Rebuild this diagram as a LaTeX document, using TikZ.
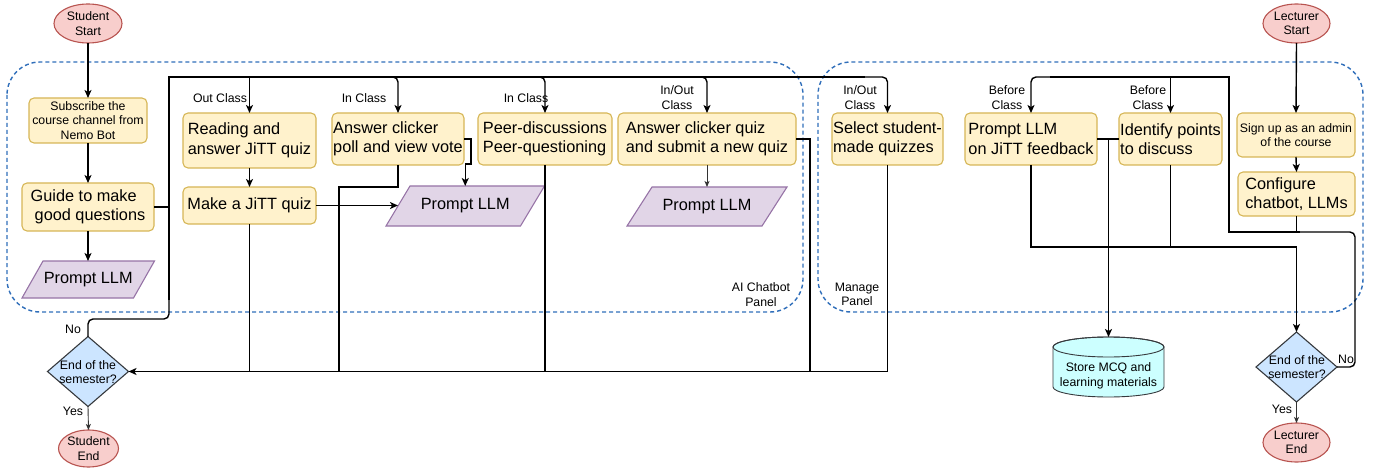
\documentclass[tikz,border=0pt]{standalone}
\usepackage{fontspec}
\setmainfont{Liberation Sans}
\usetikzlibrary{shapes.geometric,arrows.meta}
\pgfdeclarelayer{bg}
\pgfsetlayers{bg,main}
\definecolor{efill}{HTML}{F8CECC}
\definecolor{edraw}{HTML}{B85450}
\definecolor{bfill}{HTML}{FFF2CC}
\definecolor{bdraw}{HTML}{D6B656}
\definecolor{pfillc}{HTML}{E1D5E7}
\definecolor{pdraw}{HTML}{9673A6}
\definecolor{dfill}{HTML}{CCE5FF}
\definecolor{ddraw}{HTML}{36393D}
\definecolor{cfill}{HTML}{CCFFFF}
\definecolor{pblue}{HTML}{2F6EBA}
\tikzset{
 every node/.style={inner sep=0pt, outer sep=0pt},
 bigf/.style={font=\fontsize{16.3}{19.5}\selectfont},
 smallf/.style={font=\fontsize{12.3}{14.5}\selectfont},
 term/.style={ellipse, draw=edraw, fill=efill, line width=1.1pt, smallf, align=center},
 box/.style={rectangle, rounded corners=5pt, draw=bdraw, fill=bfill, line width=1.1pt},
 bigbox/.style={box, bigf, align=left},
 smallbox/.style={box, smallf, align=center},
 paranode/.style={bigf, align=center},
 pshape/.style={fill=pfillc, draw=pdraw, line width=1.1pt},
 dia/.style={diamond, draw=ddraw, fill=dfill, line width=1.1pt, minimum width=81pt, minimum height=70pt},
 cyl/.style={fill=cfill, draw=ddraw, line width=0.9pt},
 conn/.style={draw=black, line width=1.4pt},
 arr/.style={conn, -{Stealth[length=8pt,width=7pt,inset=2pt]}},
 thinarr/.style={draw=black!80, line width=0.9pt, -{Stealth[length=6pt,width=5pt,inset=1.5pt]}},
 panel/.style={draw=pblue, line width=1.4pt, dash pattern=on 4pt off 3pt, rounded corners=33pt},
 lbl/.style={smallf, align=center},
}
\begin{document}
\begin{tikzpicture}[x=1pt,y=-1pt]
\useasboundingbox (0,0) rectangle (1377,468);

% ---------- nodes ----------
\node[term, minimum width=68pt, minimum height=39pt] (sstart) at (88,23.5) {Student\\Start};
\node[smallbox, minimum width=118pt, minimum height=45pt] (subscribe) at (88,120.5) {Subscribe the\\course channel from\\Nemo Bot};
\node[bigbox, minimum width=132pt, minimum height=48pt] (guide) at (88,207) {Guide to make\\\hspace*{4pt}good questions};
\node[paranode, minimum width=111.5pt, minimum height=37pt] (pllm1) at (88.25,279.5) {Prompt LLM};
\node[dia] (sdec) at (88,371.5) {};
\node[lbl] (sdect) at (88,372) {End of the\\semester?};
\node[term, minimum width=59pt, minimum height=37pt] (send) at (88.5,448.5) {Student\\End};

\node[bigbox, minimum width=133pt, minimum height=55pt] (reading) at (249.5,140.5) {Reading and\\answer JiTT quiz};
\node[bigbox, minimum width=133pt, minimum height=37pt] (make) at (249.5,205.5) {Make a JiTT quiz};
\node[bigbox, minimum width=132pt, minimum height=52pt] (poll) at (398,139) {Answer clicker\\poll and view vote};
\node[paranode, minimum width=134.5pt, minimum height=40pt] (pllm2) at (465.25,206) {Prompt LLM};
\node[bigbox, minimum width=134pt, minimum height=52pt] (peer) at (545,139) {Peer-discussions\\Peer-questioning};
\node[bigbox, minimum width=178pt, minimum height=52pt] (quiz) at (707,139) {Answer clicker quiz\\and submit a new quiz};
\node[paranode, minimum width=135pt, minimum height=39pt] (pllm3) at (707,206.5) {Prompt LLM};

\node[bigbox, minimum width=111pt, minimum height=52pt] (select) at (887.5,139) {Select student-\\made quizzes};
\node[bigbox, minimum width=132pt, minimum height=52pt] (promptfb) at (1031,139) {Prompt LLM\\on JiTT feedback};
\node[bigbox, minimum width=103pt, minimum height=52pt] (identify) at (1170.5,139) {Identify points\\to discuss};
\node[term, minimum width=67pt, minimum height=39pt] (lstart) at (1296.5,23.5) {Lecturer\\Start};
\node[smallbox, minimum width=118pt, minimum height=44pt] (signup) at (1296,135) {Sign up as an admin\\of the course};
\node[bigbox, minimum width=117pt, minimum height=44pt] (configure) at (1296.5,194) {Configure\\chatbot, LLMs};
\node[minimum width=111pt, minimum height=60pt] (store) at (1108.5,367) {};
\node[lbl] (storet) at (1108.5,376) {Store MCQ and\\learning materials};
\node[dia] (ldec) at (1296.5,367) {};
\node[lbl] (ldect) at (1297,367) {End of the\\semester?};
\node[term, minimum width=67pt, minimum height=39pt] (lend) at (1296.5,442.5) {Lecturer\\End};

% ---------- labels ----------
\node[lbl] (t1) at (220,98) {Out Class};
\node[lbl] (t2) at (364,98) {In Class};
\node[lbl] (t3) at (526,98) {In Class};
\node[lbl] (t4) at (677,97.5) {In/Out\\Class};
\node[lbl] (t5) at (860,97.5) {In/Out\\Class};
\node[lbl] (t6) at (1007,97.5) {Before\\Class};
\node[lbl] (t7) at (1148,97.5) {Before\\Class};
\node[lbl] (t8) at (761,294.5) {AI Chatbot\\Panel};
\node[lbl] (t9) at (857,294.5) {Manage\\Panel};
\node[lbl] (t10) at (73,329) {No};
\node[lbl] (t11) at (73,411) {Yes};
\node[lbl] (t12) at (1346,359) {No};
\node[lbl] (t13) at (1282,409) {Yes};

% ---------- background shapes ----------
\begin{pgfonlayer}{bg}
\draw[panel] (7,62) rectangle (803,312);
\draw[panel] (818,62) rectangle (1363,312);
\foreach \n/\s in {pllm1/10.5, pllm2/12, pllm3/12.5} {
  \path[pshape] ([xshift=-\s pt]\n.south west) -- ([xshift=\s pt]\n.north west) -- ([xshift=\s pt]\n.north east) -- ([xshift=-\s pt]\n.south east) -- cycle;
}
\path[cyl] (1053,347) -- (1053,387) arc[start angle=180,end angle=360,x radius=55.5pt,y radius=10pt] -- (1164,347) arc[start angle=0,end angle=180,x radius=55.5pt,y radius=10pt] -- cycle;
\draw[cyl, fill=none] (1108.5,347) ellipse[x radius=55.5pt, y radius=10pt];
\end{pgfonlayer}

% ---------- junction coordinates ----------
\coordinate (topL) at (169,77);
\coordinate (noL) at (169,319);
\coordinate (noM) at (169,300);
\coordinate (topM) at (850,77);
\coordinate (topE) at (865,77);
\coordinate (b2) at (380,77);
\coordinate (b3) at (528,77);
\coordinate (b4) at (690,77);
\coordinate (pj) at (471,164);
\coordinate (pk) at (339,187);
\coordinate (qk) at (810,371.5);
\coordinate (rj) at (1229,232);
\coordinate (rt) at (1229,77);
\coordinate (rr) at (1355,232);
\coordinate (rm) at (1300,232);
\coordinate (rn) at (1050,77);
\coordinate (lb) at (1296.5,247);

% ---------- student connectors ----------
\draw[arr] (sstart.south) -- (subscribe.north);
\draw[arr] (subscribe.south) -- (guide.north);
\draw[arr] (guide.south) -- (guide.south |- pllm1.north);
\draw[conn] (guide.east) -- (guide.east -| topL);
\draw[conn, rounded corners=5pt] (sdec.north) |- (noL) -- (noM);
\draw[conn] (noM) -- (topL) -- (topE);
\draw[arr, rounded corners=5pt] (topM) -| (select.north);
\draw[arr] (reading.north |- topL) -- (reading.north);
\draw[arr, rounded corners=5pt] (b2) -| (poll.north);
\draw[arr, rounded corners=5pt] (b3) -| (peer.north);
\draw[arr, rounded corners=5pt] (b4) -| (quiz.north);
\draw[arr] (reading.south) -- (make.north);
\draw[arr] (make.east) -- (make.east -| pllm2.west);
\draw[arr] (poll.east) -| (pj) -| (pllm2.north);
\draw[arr] (select.south) |- (sdec.east);
\draw[conn] (make.south) -- (make.south |- sdec.east);
\draw[conn] (poll.south) |- (pk) -- (pk |- sdec.east);
\draw[conn] (peer.south) -- (peer.south |- sdec.east);
\draw[conn] (quiz.east) -| (qk);
\draw[thinarr] (quiz.south) -- (pllm3.north);
\draw[thinarr] (sdec.south) -- (send.north);

% ---------- lecturer connectors ----------
\draw[arr] (lstart.south) -- (signup.north);
\draw[arr] (signup.south) -- (configure.north);
\draw[conn] (configure.south) -- (configure.south |- rj);
\draw[conn, rounded corners=5pt] (ldec.east) -| (rr) -- (rm);
\draw[conn] (rm) -- (rj) -- (rt) -- (rn);
\draw[arr, rounded corners=5pt] (rn) -| (promptfb.north);
\draw[arr] (identify.north |- rt) -- (identify.north);
\draw[arr] (promptfb.south) |- (lb) -- (ldec.north);
\draw[conn] (identify.south) -- (identify.south |- lb);
\draw[conn] (promptfb.east) -- (identify.west);
\draw[arr] (store.north |- promptfb.east) -- (store.north);
\draw[thinarr] (ldec.south) -- (lend.north);
\end{tikzpicture}
\end{document}
